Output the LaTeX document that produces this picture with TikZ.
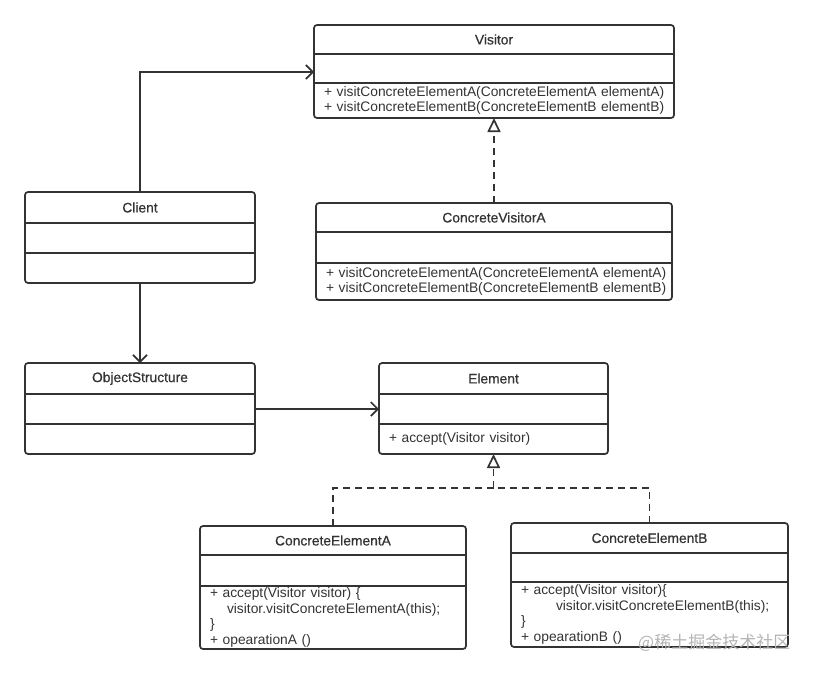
\documentclass[tikz,border=0pt]{standalone}
\usepackage{fontspec}
\setmainfont{Liberation Sans}
\newfontfamily\cjkfont{Noto Sans CJK SC}
\usepackage{xcolor}
\usetikzlibrary{arrows.meta}

\definecolor{ink}{HTML}{333333}
\definecolor{wmgray}{HTML}{B4B4B4}

\tikzset{
  ctitle/.style={anchor=north west, inner sep=0pt, outer sep=0pt, text=ink,
    font=\fontsize{13.8}{16}\selectfont\addfontfeature{FakeBold=0.6}},
  cpart/.style={anchor=north west, inner sep=0pt, outer sep=0pt},
  cmeth/.style={anchor=north west, inner xsep=10pt, inner ysep=0pt, outer sep=0pt,
    align=left, text=ink, font=\fontsize{13.8}{15.8}\selectfont},
  assoc/.style={draw=ink, line width=1.7pt, -{Straight Barb[length=7pt,width=14pt]}},
  dashline/.style={draw=ink, line width=1.7pt, dash pattern=on 7pt off 5pt},
  real/.style={dashline, -{Triangle[open,length=14pt,width=13pt,fill=white]}},
}

% outer box and the two rules of a class
\newcommand{\classframe}[1]{%
  \draw [ink, line width=1.7pt, rounded corners=3pt] (#1.north west) rectangle (#1M.south -| #1.north east);
  \draw [ink, line width=1.7pt] (#1A.north west) -- (#1A.north east) (#1A.south west) -- (#1A.south east);}

\begin{document}
\begin{tikzpicture}[x=1pt,y=-1pt]
  \useasboundingbox (0,0) rectangle (813,675);

  % Visitor
  \node [ctitle, minimum width=360, minimum height=29] (vis) at (314,25) {Visitor};
  \node [cpart, minimum width=360, minimum height=29] (visA) at (vis.south west) {};
  \node [cmeth, text width=350, minimum height=35] (visM) at (visA.south west)
    {+ visitConcreteElementA(ConcreteElementA elementA)\\+ visitConcreteElementB(ConcreteElementB elementB)};
  \classframe{vis}

  % ConcreteVisitorA
  \node [ctitle, minimum width=356, minimum height=29] (cva) at (316,203) {ConcreteVisitorA};
  \node [cpart, minimum width=356, minimum height=31] (cvaA) at (cva.south west) {};
  \node [cmeth, text width=346, minimum height=37] (cvaM) at (cvaA.south west)
    {+ visitConcreteElementA(ConcreteElementA elementA)\\+ visitConcreteElementB(ConcreteElementB elementB)};
  \classframe{cva}

  % Client
  \node [ctitle, minimum width=230, minimum height=31] (cli) at (25,192) {Client};
  \node [cpart, minimum width=230, minimum height=30] (cliA) at (cli.south west) {};
  \node [cpart, minimum width=230, minimum height=30] (cliM) at (cliA.south west) {};
  \classframe{cli}

  % ObjectStructure
  \node [ctitle, minimum width=230, minimum height=31] (obj) at (25,363) {ObjectStructure};
  \node [cpart, minimum width=230, minimum height=30] (objA) at (obj.south west) {};
  \node [cpart, minimum width=230, minimum height=30] (objM) at (objA.south west) {};
  \classframe{obj}

  % Element
  \node [ctitle, minimum width=229, minimum height=31] (ele) at (379,363) {Element};
  \node [cpart, minimum width=229, minimum height=30] (eleA) at (ele.south west) {};
  \node [cmeth, text width=219, minimum height=30] (eleM) at (eleA.south west) {+ accept(Visitor visitor)};
  \classframe{ele}

  % ConcreteElementA
  \node [ctitle, minimum width=266, minimum height=29] (cea) at (200,526) {ConcreteElementA};
  \node [cpart, minimum width=266, minimum height=31] (ceaA) at (cea.south west) {};
  \node [cmeth, text width=256, minimum height=63] (ceaM) at (ceaA.south west)
    {+ accept(Visitor visitor) \{\\\hspace*{17pt}visitor.visitConcreteElementA(this);\\\}\\+ opearationA ()};
  \classframe{cea}

  % ConcreteElementB
  \node [ctitle, minimum width=277, minimum height=30] (ceb) at (511,523) {ConcreteElementB};
  \node [cpart, minimum width=277, minimum height=29] (cebA) at (ceb.south west) {};
  \node [cmeth, text width=267, minimum height=65] (cebM) at (cebA.south west)
    {+ accept(Visitor visitor)\{\\\hspace*{35pt}visitor.visitConcreteElementB(this);\\\}\\+ opearationB ()};
  \classframe{ceb}

  % associations
  \draw [assoc] (cli.north) |- ([yshift=-3.5pt]visA.west);
  \draw [assoc] (cliM.south) -- (obj.north);
  \draw [assoc] (objA.east) -- (eleA.west);

  % realizations
  \draw [real] (cva.north) -- (cva.north |- visM.south);
  \coordinate (jn) at ([yshift=-34pt]eleM.south -| ele.south);
  \draw [dashline] (cea.north) |- (jn);
  \draw [dashline] (ceb.north) |- (jn);
  \draw [real] (jn) -- (eleM.south -| ele.south);

  \node [anchor=west, inner sep=0pt, text=wmgray, font=\cjkfont\fontsize{17}{17}\selectfont] (wm) at (638,643) {@稀土掘金技术社区};
\end{tikzpicture}
\end{document}
